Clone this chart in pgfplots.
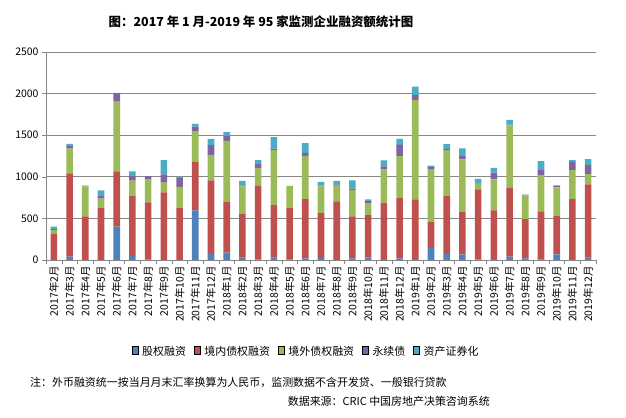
\documentclass[border=0pt]{standalone}
\usepackage{fontspec}
\setmainfont{Noto Sans CJK SC}
\usepackage{pgfplots}
\usepackage{pgfplotstable}
\pgfplotsset{compat=1.18}

\definecolor{cBlue}{HTML}{4F81BD}
\definecolor{cRed}{HTML}{C0504D}
\definecolor{cGreen}{HTML}{9BBB59}
\definecolor{cPurple}{HTML}{8064A2}
\definecolor{cTeal}{HTML}{4BACC6}
\definecolor{gridgray}{HTML}{878787}

% square legend markers instead of the default bar glyph
\pgfplotsset{/pgfplots/ybar legend/.style={
    /pgfplots/legend image code/.code={\fill[##1] (0bp,-3.2bp) rectangle (6.4bp,3.2bp);}}}

% monthly financing, 2017-02 .. 2019-12
\pgfplotstableread{
idx equity domestic overseas perpetual abs
0  0   315  45   10  30
1  40  1000 300  30  25
2  0   523  363  8   0
3  0   624  113  32  68
4  400 665  845  93  7
5  50  725  180  52  57
6  5   687  275  40  0
7  0   813  117  100 170
8  0   624  254  108 20
9  596 584  362  60  33
10 72  886  302  121 76
11 89  608  736  57  48
12 30  526  330  10  54
13 5   885  217  44  49
14 30  630  660  20  138
15 5   619  266  0   0
16 20  713  519  36  117
17 24  540  322  8   44
18 0   705  189  16  40
19 20  503  318  16  101
20 28  511  145  25  20
21 0   690  399  36  73
22 20  725  503  137 72
23 15  714  1195 61  100
24 145 310  632  32  16
25 72  697  551  12  61
26 68  508  632  40  93
27 5   845  64   5   56
28 12  584  374  81  56
29 40  826  752  8   57
30 20  471  286  8   0
31 5   580  435  60  109
32 68  459  347  16  8
33 10  723  346  101 20
34 32  878  121  108 73
}\datatable

\begin{document}
\begin{tikzpicture}
\useasboundingbox (0,0) rectangle (626bp,418bp);
\begin{axis}[
    at={(46bp,158bp)}, anchor=south west,
    scale only axis,
    width=550bp, height=208bp,
    ybar stacked,
    bar width=0.42,
    xmin=-0.5, xmax=34.5,
    ymin=0, ymax=2500,
    ytick={0,500,...,2500},
    xtick={0,...,34},
    xticklabels={2017年2月,2017年3月,2017年4月,2017年5月,2017年6月,2017年7月,2017年8月,2017年9月,2017年10月,2017年11月,2017年12月,
        2018年1月,2018年2月,2018年3月,2018年4月,2018年5月,2018年6月,2018年7月,2018年8月,2018年9月,2018年10月,2018年11月,2018年12月,
        2019年1月,2019年2月,2019年3月,2019年4月,2019年5月,2019年6月,2019年7月,2019年8月,2019年9月,2019年10月,2019年11月,2019年12月},
    minor xtick={-0.5,0.5,...,34.5},
    major x tick style={draw=none},
    minor tick length=4bp,
    major tick length=4bp,
    tick align=outside,
    axis lines*=left,
    axis line style={gridgray},
    tick style={gridgray},
    ymajorgrids, major grid style={gridgray, line width=0.7pt},
    x tick label style={rotate=90, anchor=east, font=\fontsize{10.5}{12}\selectfont, inner sep=2pt},
    y tick label style={font=\fontsize{10.5}{12}\selectfont},
    /pgf/number format/assume math mode=true,
    scaled y ticks=false,
    yticklabel style={/pgf/number format/1000 sep={}},
    legend style={at={(0.473,-0.442)}, anchor=center, draw=none,
        legend columns=5, font=\fontsize{11}{12}\selectfont,
        /tikz/every odd column/.append style={column sep=2pt},
        /tikz/every even column/.append style={column sep=6pt}},
]
\addplot[fill=cBlue, draw=none] table[x=idx, y=equity] {\datatable};
\addplot[fill=cRed, draw=none] table[x=idx, y=domestic] {\datatable};
\addplot[fill=cGreen, draw=none] table[x=idx, y=overseas] {\datatable};
\addplot[fill=cPurple, draw=none] table[x=idx, y=perpetual] {\datatable};
\addplot[fill=cTeal, draw=none] table[x=idx, y=abs] {\datatable};
\legend{股权融资,境内债权融资,境外债权融资,永续债,资产证券化}
\end{axis}
\node[font=\fontsize{12.5}{14}\selectfont\bfseries] at (261bp,396bp) {图：2017 年 1 月-2019 年 95 家监测企业融资额统计图};
\node[anchor=west, font=\fontsize{11}{12}\selectfont, inner sep=0pt] at (30bp,36bp) {注：外币融资统一按当月月末汇率换算为人民币，监测数据不含开发贷、一般银行贷款};
\node[anchor=east, font=\fontsize{11}{12}\selectfont, inner sep=0pt] at (490bp,17bp) {数据来源：CRIC 中国房地产决策咨询系统};
\end{tikzpicture}
\end{document}
